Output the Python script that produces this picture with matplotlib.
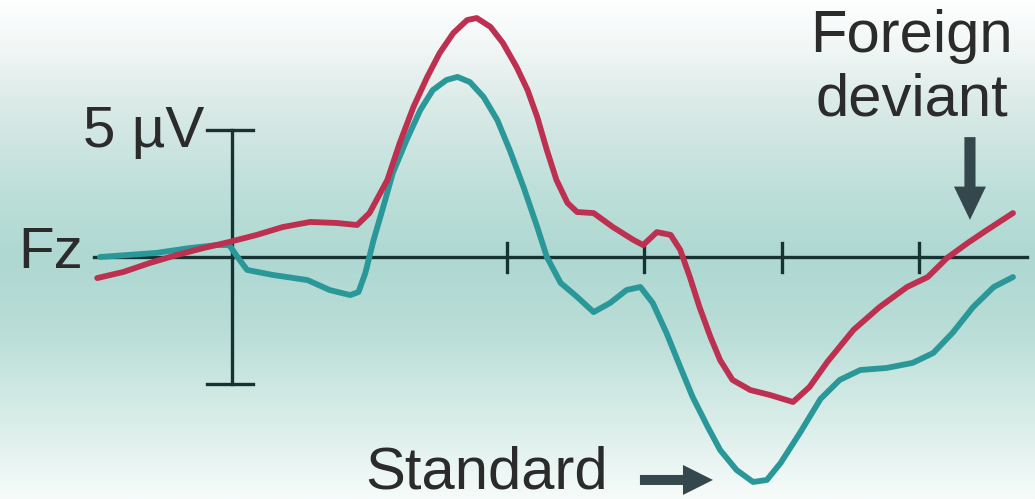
import numpy as np
import matplotlib.pyplot as plt
from matplotlib.colors import LinearSegmentedColormap

plt.rcParams['font.family'] = ['Liberation Sans', 'DejaVu Sans']

# time (ms) and amplitude (uV)
deviant_t = [-98, -79, -60, -40, -21, -2, 18, 37, 57, 76, 91, 100, 113, 122, 132,
             142, 151, 161, 171, 178, 188, 197, 207, 215, 222, 229, 236, 244, 251,
             263, 277, 292, 299, 309, 319, 326, 333, 340, 348, 355, 364, 377, 391,
             408, 420, 433, 452, 471, 491, 506, 520, 535, 549, 568]
deviant_v = [-0.83, -0.59, -0.24, 0.08, 0.35, 0.59, 0.87, 1.18, 1.38, 1.34, 1.26,
             1.73, 3.03, 4.49, 5.91, 7.09, 8.03, 8.82, 9.33, 9.41, 9.06, 8.43, 7.48,
             6.57, 5.51, 4.21, 3.03, 2.13, 1.77, 1.73, 1.18, 0.67, 0.47, 0.98, 0.87,
             0.28, -0.79, -1.97, -3.15, -4.06, -4.84, -5.24, -5.43, -5.71, -5.12,
             -4.13, -2.87, -1.97, -1.18, -0.79, -0.04, 0.55, 1.06, 1.73]

standard_t = [-96, -55, -31, -11, -2, 4, 11, 30, 55, 71, 86, 92, 97, 103, 110, 117,
              127, 137, 146, 156, 164, 173, 183, 193, 202, 212, 222, 229, 239, 251,
              263, 275, 287, 297, 306, 316, 326, 335, 346, 355, 367, 379, 389, 399,
              413, 428, 442, 457, 476, 495, 510, 524, 539, 554, 568]
standard_v = [0.0, 0.16, 0.35, 0.47, 0.47, 0.0, -0.51, -0.71, -0.91, -1.30, -1.50,
              -1.38, -0.63, 0.67, 1.97, 3.31, 4.61, 5.79, 6.57, 6.97, 7.09, 6.89,
              6.30, 5.39, 4.21, 2.76, 1.18, 0.0, -1.02, -1.57, -2.17, -1.81, -1.30,
              -1.18, -1.81, -2.99, -4.33, -5.51, -6.69, -7.60, -8.39, -8.86, -8.78,
              -8.11, -6.93, -5.59, -4.84, -4.45, -4.37, -4.17, -3.78, -2.99, -1.97,
              -1.18, -0.79]

tick_ms = [200, 300, 400, 500]
scale_uv = 5

fig = plt.figure(figsize=(10.35, 4.99), dpi=100)
ax = fig.add_axes([0, 0, 1, 1])
x0, x1 = -168.7, 584.0
y0, y1 = -9.53, 10.12
ax.axis('off')

# background: white at top and bottom, light teal band through the middle
bg = LinearSegmentedColormap.from_list('bg', [
    (0.0, '#fdfefe'), (0.08, '#f3f8f7'), (0.2, '#dcebe8'), (0.4, '#bbded8'),
    (0.52, '#afd8d2'), (0.66, '#b9ddd7'), (0.84, '#d8ede8'), (1.0, '#f6fbfa')])
grad = np.linspace(0, 1, 300).reshape(-1, 1)
ax.imshow(grad, cmap=bg, aspect='auto', extent=[x0, x1, y0, y1], origin='upper', zorder=0)
ax.set_xlim(x0, x1)
ax.set_ylim(y0, y1)

axis_col = '#163233'
ax.plot([-100, 578], [0, 0], color=axis_col, lw=2.4, zorder=2)
for t in tick_ms:
    ax.plot([t, t], [-0.6, 0.55], color=axis_col, lw=2.4, zorder=2)
ax.plot([0, 0], [-scale_uv, scale_uv], color=axis_col, lw=2.4, zorder=2)
for v in (-scale_uv, scale_uv):
    ax.plot([-18, 15], [v, v], color=axis_col, lw=2.4, zorder=2)

ax.plot(standard_t, standard_v, color='#2a9898', lw=4.2, solid_joinstyle='round',
        solid_capstyle='round', zorder=3)
ax.plot(deviant_t, deviant_v, color='#bd3050', lw=4.2, solid_joinstyle='round',
        solid_capstyle='round', zorder=4)

txt = '#2b2b2b'
fs = 42
ax.text(-20.4, 4.33, '5 \u00b5V', fontsize=fs, color=txt, ha='right', va='baseline')
ax.text(-108.4, -0.43, 'Fz', fontsize=fs, color=txt, ha='right', va='baseline')
ax.text(494.5, 8.07, 'Foreign', fontsize=43, color=txt, ha='center', va='baseline')
ax.text(494.5, 5.59, 'deviant', fontsize=43, color=txt, ha='center', va='baseline')
ax.text(96.7, -9.12, 'Standard', fontsize=43, color=txt, ha='left', va='baseline')

arrow_col = '#33474c'
ax.annotate('', xy=(536.7, 1.46), xytext=(536.7, 4.72),
            arrowprops=dict(arrowstyle='simple,head_width=1.15,head_length=1.2,tail_width=0.4',
                            mutation_scale=20, color=arrow_col, lw=0, shrinkA=0, shrinkB=0))
ax.annotate('', xy=(349.8, -8.78), xytext=(296.7, -8.78),
            arrowprops=dict(arrowstyle='simple,head_width=1.08,head_length=1.08,tail_width=0.36',
                            mutation_scale=20, color=arrow_col, lw=0, shrinkA=0, shrinkB=0))

fig.savefig('out.png', dpi=100)
